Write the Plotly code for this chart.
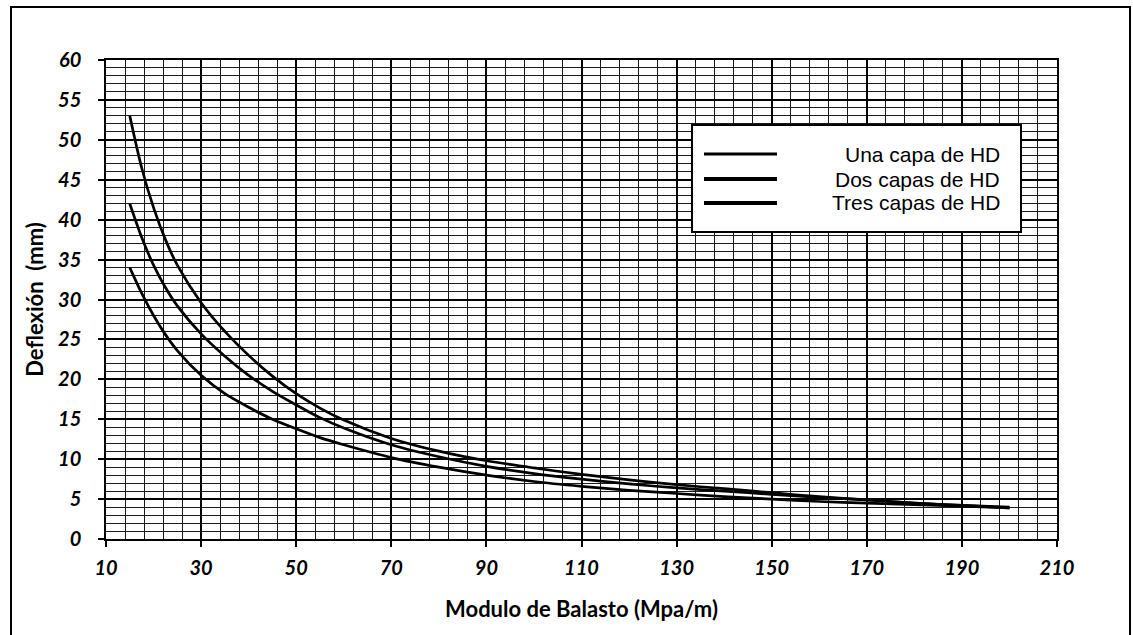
import plotly.graph_objects as go

# Modulo de balasto (MPa/m) sample points
k_vals = [15, 17.5, 20, 22.5, 25, 30, 35, 40, 45, 50, 55, 60, 70, 80, 90,
          100, 110, 120, 130, 140, 150, 160, 170, 180, 190, 200]

# Deflexion (mm) for each number of layers
una_capa = [53, 46.5, 41.5, 37.5, 34.3, 29.6, 26.0, 23.0, 20.4, 18.2, 16.4, 14.9,
            12.6, 11.0, 9.8, 8.9, 8.1, 7.4, 6.8, 6.3, 5.8, 5.3, 4.9, 4.5, 4.2, 4.0]
dos_capas = [42, 37.8, 34.3, 31.5, 29.2, 25.7, 22.9, 20.5, 18.5, 16.8, 15.2, 13.9,
             11.8, 10.3, 9.1, 8.2, 7.5, 6.9, 6.4, 6.0, 5.6, 5.2, 4.9, 4.5, 4.2, 3.9]
tres_capas = [34, 30.8, 28.0, 25.6, 23.6, 20.5, 18.2, 16.5, 15.0, 13.8, 12.7, 11.8,
              10.2, 9.0, 8.0, 7.2, 6.6, 6.1, 5.7, 5.3, 5.0, 4.7, 4.5, 4.3, 4.1, 3.9]

series_names = ["Una capa de HD", "Dos capas de HD", "Tres capas de HD"]
x_ticks = [10, 30, 50, 70, 90, 110, 130, 150, 170, 190, 210]
y_ticks = [0, 5, 10, 15, 20, 25, 30, 35, 40, 45, 50, 55, 60]

fig = go.Figure()
for ys in (una_capa, dos_capas, tres_capas):
    fig.add_trace(go.Scatter(
        x=k_vals, y=ys, mode="lines",
        line=dict(color="black", width=2.7, shape="spline", smoothing=0.8),
        showlegend=False, hoverinfo="skip",
    ))

tick_font = dict(family="Lato", size=20, color="black", weight="bold", style="italic")
title_font = dict(family="Lato", size=22, color="black", weight="bold")

fig.update_xaxes(
    range=[10, 210], tickmode="array", tickvals=x_ticks,
    ticktext=[str(v) for v in x_ticks], tickfont=tick_font,
    ticks="outside", ticklen=6, tickwidth=1.5, tickcolor="black",
    ticklabelstandoff=4,
    showline=True, linecolor="black", linewidth=1.5, mirror=True,
    showgrid=True, gridcolor="black", gridwidth=1.6,
    minor=dict(dtick=4, tick0=10, showgrid=True, gridcolor="#1a1a1a", gridwidth=1),
    zeroline=False,
    title=dict(text="Modulo de Balasto (Mpa/m)", font=title_font, standoff=24),
)
fig.update_yaxes(
    range=[0, 60], tickmode="array", tickvals=y_ticks,
    ticktext=[str(v) for v in y_ticks], tickfont=tick_font,
    ticks="outside", ticklen=6, tickwidth=1.5, tickcolor="black",
    ticklabelstandoff=13,
    showline=True, linecolor="black", linewidth=1.5, mirror=True,
    showgrid=True, gridcolor="black", gridwidth=1.6,
    minor=dict(dtick=1, tick0=0, showgrid=True, gridcolor="#1a1a1a", gridwidth=1),
    zeroline=False,
    title=dict(text="Deflexión  (mm)", font=title_font, standoff=8),
)

# Pixel-to-paper helpers for the decorative frame and the legend box
L, R, T, B = 106, 1057, 60, 539
def px(x):
    return (x - L) / (R - L)
def py(y):
    return (B - y) / (B - T)

shapes = [
    # outer frame
    dict(type="rect", xref="paper", yref="paper",
         x0=px(11), x1=px(1130), y0=py(645), y1=py(7),
         line=dict(color="black", width=2), layer="below"),
    # legend box
    dict(type="rect", xref="paper", yref="paper",
         x0=px(692), x1=px(1021), y0=py(232), y1=py(125),
         line=dict(color="black", width=2), fillcolor="white", layer="above"),
]
annotations = []
row_y = [154, 179, 203]
line_w = [3, 4, 4]
for name, yy, lw in zip(series_names, row_y, line_w):
    shapes.append(dict(type="line", xref="paper", yref="paper",
                       x0=px(704), x1=px(777), y0=py(yy), y1=py(yy),
                       line=dict(color="black", width=lw), layer="above"))
    annotations.append(dict(text=name, xref="paper", yref="paper",
                            x=px(1002), y=py(yy), xanchor="right", yanchor="middle",
                            showarrow=False,
                            font=dict(family="Liberation Sans", size=21, color="black")))

fig.update_layout(
    width=1133, height=635,
    margin=dict(l=L, r=1133 - R, t=T, b=635 - B),
    paper_bgcolor="white", plot_bgcolor="white",
    shapes=shapes, annotations=annotations,
)

fig.write_html("out.html")
